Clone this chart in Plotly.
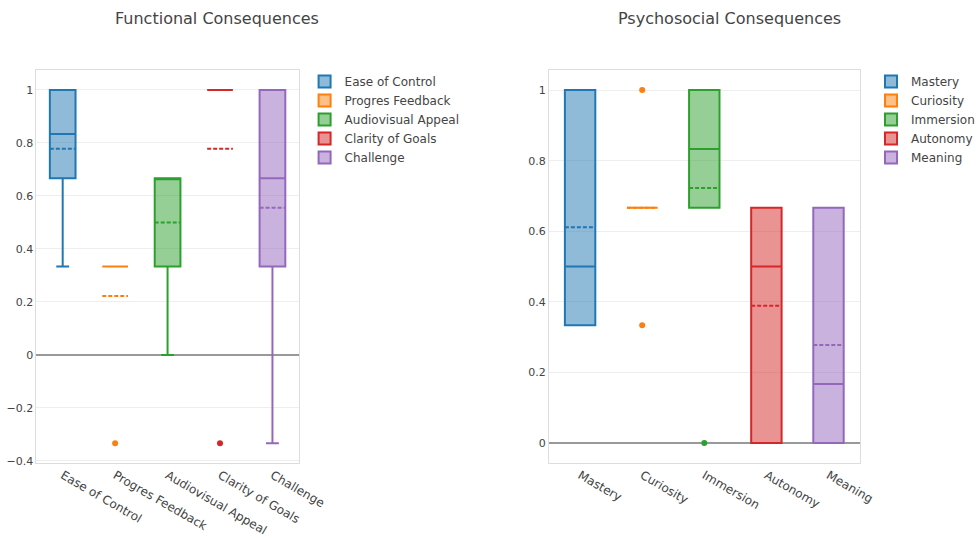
import plotly.graph_objects as go

# Scores per respondent (scaled -1..1 in thirds)
functional_names = ["Ease of Control", "Progres Feedback", "Audiovisual Appeal",
                    "Clarity of Goals", "Challenge"]
ease_of_control = [1/3, 2/3, 2/3, 1, 1, 1]
progres_feedback = [-1/3, 1/3, 1/3, 1/3, 1/3, 1/3]
audiovisual_appeal = [0, 1/3, 2/3, 2/3, 2/3, 2/3]
clarity_of_goals = [-1/3, 1, 1, 1, 1, 1]
challenge = [-1/3, 1/3, 2/3, 2/3, 1, 1]

psychosocial_names = ["Mastery", "Curiosity", "Immersion", "Autonomy", "Meaning"]
mastery = [1/3, 1/3, 1/3, 2/3, 1, 1]
curiosity = [1/3, 2/3, 2/3, 2/3, 2/3, 1]
immersion = [0, 2/3, 2/3, 1, 1, 1]
autonomy = [0, 0, 1/3, 2/3, 2/3, 2/3]
meaning = [0, 0, 0, 1/3, 2/3, 2/3]

colors = ["#1f77b4", "#ff7f0e", "#2ca02c", "#d62728", "#9467bd"]

functional_values = [ease_of_control, progres_feedback, audiovisual_appeal,
                     clarity_of_goals, challenge]
psychosocial_values = [mastery, curiosity, immersion, autonomy, meaning]

FONT = "DejaVu Sans, Verdana, sans-serif"
TXT = "#444"
W, H = 980, 538

fig = go.Figure()

for name, vals, col in zip(functional_names, functional_values, colors):
    fig.add_trace(go.Box(
        y=vals, x=[name] * len(vals), name=name, boxmean=True,
        marker_color=col, line=dict(color=col, width=2),
        xaxis="x", yaxis="y", legend="legend",
    ))

for name, vals, col in zip(psychosocial_names, psychosocial_values, colors):
    fig.add_trace(go.Box(
        y=vals, x=[name] * len(vals), name=name, boxmean=True,
        marker_color=col, line=dict(color=col, width=2),
        xaxis="x2", yaxis="y2", legend="legend2",
    ))

ydom = [1 - 463 / H, 1 - 70 / H]

frame = dict(showline=True, mirror=True, linecolor="#dddddd", linewidth=1,
             automargin=False)

xcommon = dict(tickangle=30, showgrid=False, ticks="",
               tickfont=dict(family=FONT, size=12, color=TXT), **frame)
ycommon = dict(showgrid=True, gridcolor="#eeeeee", ticks="",
               zeroline=True, zerolinecolor="#999999", zerolinewidth=1.5,
               tickfont=dict(family=FONT, size=11, color=TXT), **frame)

legend_style = dict(xanchor="left", yanchor="top",
                    font=dict(family=FONT, size=12, color=TXT),
                    bgcolor="rgba(0,0,0,0)")

fig.update_layout(
    width=W, height=H,
    template="none",
    paper_bgcolor="white", plot_bgcolor="white",
    margin=dict(l=0, r=0, t=0, b=0),
    boxmode="overlay", boxgap=0.3, boxgroupgap=0.3,
    font=dict(family=FONT, size=12, color=TXT),
    xaxis=dict(domain=[37 / W, 303 / W], anchor="y",
               categoryorder="array", categoryarray=functional_names, **xcommon),
    yaxis=dict(domain=ydom, anchor="x", range=[-0.408, 1.075],
               tickvals=[-0.4, -0.2, 0, 0.2, 0.4, 0.6, 0.8, 1], **ycommon),
    xaxis2=dict(domain=[557 / W, 872 / W], anchor="y2",
                categoryorder="array", categoryarray=psychosocial_names, **xcommon),
    yaxis2=dict(domain=ydom, anchor="x2", range=[-0.057, 1.057],
                tickvals=[0, 0.2, 0.4, 0.6, 0.8, 1], **ycommon),
    legend=dict(x=309 / W, y=1 - 67 / H, **legend_style),
    legend2=dict(x=884 / W, y=1 - 67 / H, **legend_style),
    annotations=[
        dict(text="Functional Consequences", x=220 / W, y=1 - 18 / H,
             xref="paper", yref="paper", xanchor="center", yanchor="middle",
             showarrow=False, font=dict(family=FONT, size=16, color=TXT)),
        dict(text="Psychosocial Consequences", x=740 / W, y=1 - 18 / H,
             xref="paper", yref="paper", xanchor="center", yanchor="middle",
             showarrow=False, font=dict(family=FONT, size=16, color=TXT)),
    ],
)

fig.write_html("out.html")
